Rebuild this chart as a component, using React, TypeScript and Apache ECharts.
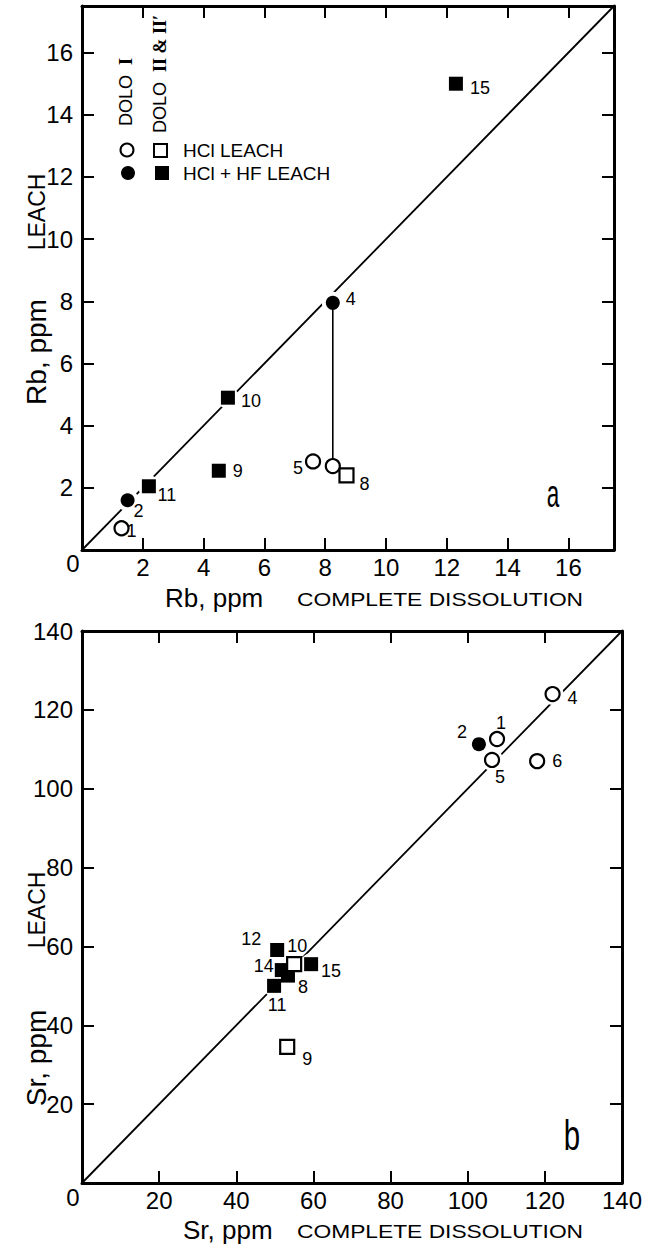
import React, { useEffect, useRef } from 'react';
import * as echarts from 'echarts';

// ---------- Panel a: Rb, ppm ----------
const rbAxisMax = 17.5;
const rbTickStep = 2;
// [complete dissolution, leach, sample label]
const rbHclDoloI: [number, number, string][] = [[1.3, 0.7, '1'], [7.6, 2.85, '5'], [8.25, 2.7, '']];
const rbHclHfDoloI: [number, number, string][] = [[1.5, 1.6, '2'], [8.25, 7.95, '4']];
const rbHclDoloII: [number, number, string][] = [[8.7, 2.4, '8']];
const rbHclHfDoloII: [number, number, string][] = [[2.2, 2.05, '11'], [4.5, 2.55, '9'], [4.8, 4.9, '10'], [12.3, 15.0, '15']];
// sample 4: HCl+HF leach joined to its HCl leach
const rbSample4Link: [number, number][] = [[8.25, 7.95], [8.25, 2.7]];

// ---------- Panel b: Sr, ppm ----------
const srAxisMax = 140;
const srTickStep = 20;
const srHclDoloI: [number, number, string][] = [[107.6, 112.6, '1'], [106.3, 107.3, '5'], [118, 107, '6'], [122, 124, '4']];
const srHclHfDoloI: [number, number, string][] = [[102.9, 111.3, '2']];
const srHclHfDoloII: [number, number, string][] = [[50.6, 59.1, '12'], [51.8, 54.0, '14'], [53.4, 52.6, '8'], [49.8, 50.0, '11'], [59.4, 55.5, '15']];
const srHclDoloII: [number, number, string][] = [[55.0, 55.5, '10'], [53.2, 34.5, '9']];

// label offsets (styling, px from marker centre)
const rbLabelOffset: Record<string, number[]> = {
  '1': [10, 3], '2': [11, 11], '11': [18, 9], '9': [19, 0], '10': [23, 3],
  '5': [-15, 7], '8': [18, 9], '4': [18, -4], '15': [24, 4],
};
const srLabelOffset: Record<string, number[]> = {
  '12': [-26, -11], '10': [3, -18], '14': [-18, -4], '8': [15, 11], '11': [3, 19],
  '15': [20, 7], '9': [20, 12], '2': [-17, -12], '1': [4, -16], '5': [8, 17], '6': [20, 0], '4': [20, 4],
};

const FONT = '"Liberation Sans", Arial, sans-serif';
const SERIF = '"Liberation Serif", "DejaVu Serif", serif';

function axisPair(max: number, step: number, gridIndex: number, dir: 'x' | 'y') {
  const common = {
    type: 'value', gridIndex, min: 0, max, interval: step,
    splitLine: { show: false },
    axisLine: { show: true, onZero: false, lineStyle: { color: '#000', width: 3 } },
    axisTick: { show: true, inside: true, length: 12, lineStyle: { color: '#000', width: 2 } },
  };
  const fmt = (v: number) => (v === 0 || v % step !== 0 ? '' : String(v));
  const main = {
    ...common,
    position: dir === 'x' ? 'bottom' : 'left',
    axisLabel: {
      show: true, formatter: fmt, color: '#000', fontSize: 24, fontFamily: FONT,
      margin: dir === 'x' ? 5 : 9, showMinLabel: true, showMaxLabel: true,
    },
  };
  const opp = { ...common, position: dir === 'x' ? 'top' : 'right', axisLabel: { show: false } };
  return [main, opp];
}

function markerSeries(
  data: [number, number, string][], symbol: string, filled: boolean, idx: number,
  offsets: Record<string, number[]>, z: number,
) {
  return {
    type: 'scatter', xAxisIndex: idx * 2, yAxisIndex: idx * 2, symbol, symbolSize: 14,
    z, silent: true,
    itemStyle: filled
      ? { color: '#000', borderWidth: 0, opacity: 1 }
      : { color: '#fff', borderColor: '#000', borderWidth: 2.2, opacity: 1 },
    data: data.map((d) => ({
      value: [d[0], d[1]],
      label: {
        show: d[2] !== '', formatter: d[2], position: 'inside', offset: offsets[d[2]] || [0, 0],
        color: '#000', opacity: 1, fontSize: 18, fontFamily: FONT, textBorderWidth: 0, align: 'center', verticalAlign: 'middle',
      },
    })),
  };
}

function haloSeries(all: [number, number, string][], idx: number) {
  return {
    type: 'scatter', xAxisIndex: idx * 2, yAxisIndex: idx * 2, symbol: 'circle', symbolSize: 22, z: 2, silent: true,
    itemStyle: { color: '#fff', opacity: 1 }, data: all.map((d) => [d[0], d[1]]),
  };
}

function diagSeries(max: number, idx: number) {
  return {
    type: 'line', xAxisIndex: idx * 2, yAxisIndex: idx * 2, symbol: 'none', z: 1, silent: true, clip: false,
    lineStyle: { color: '#000', width: 1.8 }, data: [[0, 0], [max, max]],
  };
}

function txt(x: number, y: number, text: string, fontSize: number, extra: any = {}, styleExtra: any = {}) {
  return {
    type: 'text', x, y, ...extra,
    style: { text, fontSize, fontFamily: FONT, fill: '#000', align: 'center', verticalAlign: 'middle', ...styleExtra },
  };
}

export default function App() {
  const ref = useRef<HTMLDivElement>(null);
  useEffect(() => {
    if (!ref.current) return;
    const chart = echarts.init(ref.current, null, { renderer: 'svg' });
    const [rx0, rx1] = axisPair(rbAxisMax, rbTickStep, 0, 'x');
    const [ry0, ry1] = axisPair(rbAxisMax, rbTickStep, 0, 'y');
    const [sx0, sx1] = axisPair(srAxisMax, srTickStep, 1, 'x');
    const [sy0, sy1] = axisPair(srAxisMax, srTickStep, 1, 'y');

    const dolo = {
      d: { fontSize: 18, fontFamily: FONT, color: '#000' },
      r: { fontSize: 18, fontFamily: SERIF, fontWeight: 'bold', color: '#000' },
    };
    const rot = { rotation: Math.PI / 2 };

    chart.setOption({
      animation: false,
      backgroundColor: '#fff',
      grid: [
        { left: 82, top: 6, width: 532, height: 544, containLabel: false },
        { left: 82, top: 631, width: 540, height: 552, containLabel: false },
      ],
      xAxis: [rx0, rx1, sx0, sx1],
      yAxis: [ry0, ry1, sy0, sy1],
      series: [
        diagSeries(rbAxisMax, 0),
        haloSeries([...rbHclDoloI, ...rbHclHfDoloI, ...rbHclDoloII, ...rbHclHfDoloII], 0),
        {
          type: 'line', xAxisIndex: 0, yAxisIndex: 0, symbol: 'none', z: 2.5, silent: true,
          lineStyle: { color: '#000', width: 1.6 }, data: rbSample4Link,
        },
        markerSeries(rbHclHfDoloII, 'rect', true, 0, rbLabelOffset, 3),
        markerSeries(rbHclHfDoloI, 'circle', true, 0, rbLabelOffset, 3),
        markerSeries(rbHclDoloII, 'rect', false, 0, rbLabelOffset, 4),
        markerSeries(rbHclDoloI, 'circle', false, 0, rbLabelOffset, 4),

        diagSeries(srAxisMax, 1),
        haloSeries([...srHclDoloI, ...srHclHfDoloI, ...srHclDoloII, ...srHclHfDoloII], 1),
        markerSeries(srHclHfDoloII, 'rect', true, 1, srLabelOffset, 3),
        markerSeries(srHclHfDoloI, 'circle', true, 1, srLabelOffset, 3),
        markerSeries(srHclDoloII, 'rect', false, 1, srLabelOffset, 4),
        markerSeries(srHclDoloI, 'circle', false, 1, srLabelOffset, 4),
      ],
      graphic: [
        // corner zeros
        txt(73, 563, '0', 24),
        txt(73, 1197, '0', 24),
        // x axis titles
        txt(165, 598, 'Rb, ppm', 26, {}, { align: 'left' }),
        txt(297, 599, 'COMPLETE DISSOLUTION', 19, { scaleX: 1.2 }, { align: 'left' }),
        txt(183, 1230, 'Sr, ppm', 26, {}, { align: 'left' }),
        txt(297, 1231, 'COMPLETE DISSOLUTION', 19, { scaleX: 1.2 }, { align: 'left' }),
        // y axis titles (rotated, reading upward)
        txt(36, 352, 'Rb, ppm', 28, rot),
        txt(37, 212, 'LEACH', 23, rot),
        txt(36, 1058, 'Sr, ppm', 28, rot),
        txt(37, 910, 'LEACH', 23, rot),
        // legend
        { type: 'text', x: 126, y: 92, rotation: Math.PI / 2, style: { text: '{d|DOLO  }{r|I}', rich: dolo, align: 'center', verticalAlign: 'middle' } },
        { type: 'text', x: 160, y: 74, rotation: Math.PI / 2, style: { text: '{d|DOLO  }{r|II & II′}', rich: dolo, align: 'center', verticalAlign: 'middle' } },
        { type: 'circle', shape: { cx: 127, cy: 150, r: 6.5 }, style: { fill: '#fff', stroke: '#000', lineWidth: 2 } },
        { type: 'rect', shape: { x: 154, y: 144, width: 13, height: 13 }, style: { fill: '#fff', stroke: '#000', lineWidth: 2 } },
        { type: 'circle', shape: { cx: 128, cy: 173, r: 7 }, style: { fill: '#000' } },
        { type: 'rect', shape: { x: 155, y: 166, width: 14, height: 14 }, style: { fill: '#000' } },
        txt(183, 150, 'HCl LEACH', 19, {}, { align: 'left' }),
        txt(183, 173, 'HCl + HF LEACH', 19, {}, { align: 'left' }),
        // panel letters
        txt(553, 494, 'a', 30, { scaleX: 0.75, scaleY: 1.3 }),
        txt(572, 1136, 'b', 42, { scaleX: 0.7 }),
      ],
    });
    return () => chart.dispose();
  }, []);
  return <div ref={ref} style={{ position: 'absolute', left: 0, top: 0, width: 664, height: 1250, background: '#fff' }} />;
}
